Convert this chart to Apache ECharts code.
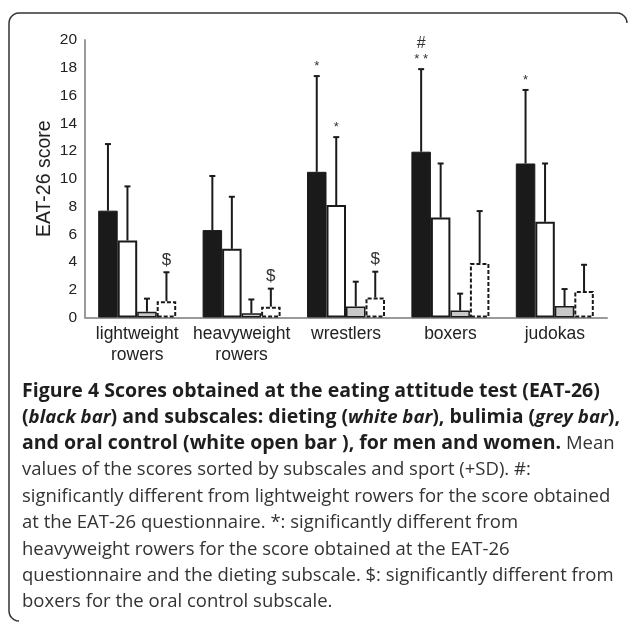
<!DOCTYPE html>
<html>
<head>
<meta charset="utf-8">
<script src="https://cdn.jsdelivr.net/npm/echarts@6/dist/echarts.min.js"></script>
<style>
  html, body { margin: 0; padding: 0; background: #fff; }
  #chart { width: 629px; height: 622px; }
</style>
</head>
<body>
<div id="chart"></div>
<script>
// sports on the x axis
var categories = ['lightweight\nrowers', 'heavyweight\nrowers', 'wrestlers', 'boxers', 'judokas'];
var yTicks = [0, 2, 4, 6, 8, 10, 12, 14, 16, 18, 20];

// means and SD
var eatMean = [7.7, 6.3, 10.5, 11.95, 11.1];
var eatSd = [4.8, 3.9, 6.9, 5.95, 5.3];
var dietMean = [5.55, 4.95, 8.1, 7.2, 6.9];
var dietSd = [3.9, 3.75, 4.9, 3.9, 4.2];
var bulMean = [0.42, 0.3, 0.8, 0.5, 0.83];
var bulSd = [0.94, 1.0, 1.78, 1.22, 1.22];
var oralMean = [1.17, 0.78, 1.45, 3.93, 1.91];
var oralSd = [2.09, 1.3, 1.85, 3.74, 1.89];

// significance marks above the SD bars
var eatMarks = ['', '', '*', '#\n* *', '*'];
var dietMarks = ['', '', '*', '', ''];
var bulMarks = ['', '', '', '', ''];
var oralMarks = ['$', '$', '$', '', ''];

var barW = 19.5;
var ink = '#1a1a1a';
var sans = '"Liberation Sans", Arial, sans-serif';

var chart = echarts.init(document.getElementById('chart'));

// error bar + mark, k = position of the bar in its group (0..3)
function errSeries(mean, sd, marks, k) {
    return {
        type: 'custom',
        z: 5,
        silent: true,
        data: mean.map(function (m, i) { return [i, m, m + sd[i]]; }),
        renderItem: function (params, api) {
            var base = api.coord([api.value(0), api.value(1)]);
            var top = api.coord([api.value(0), api.value(2)]);
            var x = base[0] + (k - 1.5) * barW;
            var mark = marks[params.dataIndex];
            var kids = [{
                type: 'line',
                shape: { x1: x, y1: base[1], x2: x, y2: top[1] },
                style: { stroke: ink, lineWidth: 2 }
            }, {
                type: 'line',
                shape: { x1: x - 3, y1: top[1], x2: x + 3, y2: top[1] },
                style: { stroke: ink, lineWidth: 2 }
            }];
            if (mark) {
                var isDollar = mark === '$';
                kids.push({
                    type: 'text',
                    style: {
                        text: mark.replace('#', '{h|#}'),
                        x: x,
                        y: isDollar ? top[1] - 12 : top[1] - 2,
                        align: 'center',
                        verticalAlign: isDollar ? 'middle' : 'bottom',
                        font: (isDollar ? 17 : 13) + 'px ' + sans,
                        lineHeight: 16,
                        fill: '#333',
                        rich: { h: { font: '16px ' + sans, fill: '#333', lineHeight: 16 } }
                    }
                });
            }
            return { type: 'group', children: kids };
        }
    };
}

// frame: rounded top corners, left side down to the bottom
function corner(cx, cy, r, a0, a1) {
    var pts = [];
    for (var s = 0; s <= 6; s++) {
        var a = a0 + (a1 - a0) * s / 6;
        pts.push([cx + r * Math.cos(a), cy + r * Math.sin(a)]);
    }
    return pts;
}
var framePts = [[19, 621]]
    .concat(corner(19, 611, 10, Math.PI / 2, Math.PI))
    .concat(corner(19, 23, 10, Math.PI, Math.PI * 1.5))
    .concat(corner(617, 23, 10, Math.PI * 1.5, Math.PI * 2));

var rich = {
    b: { font: 'bold 19.5px "Open Sans", sans-serif', fill: '#1e1e1e' },
    bi: { font: 'italic bold 18.6px "Open Sans", sans-serif', fill: '#1e1e1e' },
    r: { font: '18.5px "Open Sans", sans-serif', fill: '#333' }
};
var captionLines = [
    '{b|Figure 4 Scores obtained at the eating attitude test (EAT-26)}',
    '{b|(}{bi|black bar}{b|) and subscales: dieting (}{bi|white bar}{b|), bulimia (}{bi|grey bar}{b|),}',
    '{b|and oral control (white open bar ), for men and women.}{r| Mean}',
    '{r|values of the scores sorted by subscales and sport (+SD). #:}',
    '{r|significantly different from lightweight rowers for the score obtained}',
    '{r|at the EAT-26 questionnaire. *: significantly different from}',
    '{r|heavyweight rowers for the score obtained at the EAT-26}',
    '{r|questionnaire and the dieting subscale. $: significantly different from}',
    '{r|boxers for the oral control subscale.}'
];

var graphics = [{
    type: 'polyline',
    silent: true,
    shape: { points: framePts },
    style: { stroke: '#333', lineWidth: 1.5, fill: null }
}];
captionLines.forEach(function (t, i) {
    graphics.push({
        type: 'text',
        silent: true,
        style: { text: t, x: 22, y: 391 + i * 26.4, verticalAlign: 'middle', rich: rich }
    });
});

chart.setOption({
    animation: false,
    backgroundColor: '#fff',
    grid: { left: 85, right: 22, top: 40, bottom: 304.5 },
    xAxis: {
        type: 'category',
        data: categories,
        axisLine: { lineStyle: { color: '#9a9a9a', width: 2 } },
        axisTick: { show: false },
        axisLabel: {
            interval: 0,
            color: '#222',
            fontSize: 17.5,
            lineHeight: 21,
            margin: 6,
            fontFamily: sans
        }
    },
    yAxis: {
        type: 'value',
        min: 0,
        max: yTicks[yTicks.length - 1],
        interval: 2,
        name: 'EAT-26 score',
        nameLocation: 'middle',
        nameRotate: 90,
        nameGap: 30,
        nameMoveOverlap: false,
        nameTextStyle: { color: '#222', fontSize: 19.5, fontFamily: sans },
        axisLine: { show: true, lineStyle: { color: '#9a9a9a', width: 2 } },
        axisTick: { show: false },
        splitLine: { show: false },
        axisLabel: {
            color: '#222',
            fontSize: 15.5,
            margin: 8,
            fontFamily: sans
        }
    },
    series: [{
        name: 'EAT-26',
        type: 'bar',
        barWidth: barW,
        barGap: '0%',
        data: eatMean,
        itemStyle: { color: ink, borderColor: ink, borderWidth: 1 }
    }, {
        name: 'dieting',
        type: 'bar',
        barWidth: barW,
        barGap: '0%',
        data: dietMean,
        itemStyle: { color: '#fff', borderColor: ink, borderWidth: 2 }
    }, {
        name: 'bulimia',
        type: 'bar',
        barWidth: barW,
        barGap: '0%',
        data: bulMean,
        itemStyle: { color: '#c8c8c8', borderColor: ink, borderWidth: 1.5 }
    }, {
        name: 'oral control',
        type: 'bar',
        barWidth: barW,
        barGap: '0%',
        data: oralMean,
        itemStyle: { color: '#fff', borderColor: ink, borderWidth: 2, borderType: [4, 2] }
    },
        errSeries(eatMean, eatSd, eatMarks, 0),
        errSeries(dietMean, dietSd, dietMarks, 1),
        errSeries(bulMean, bulSd, bulMarks, 2),
        errSeries(oralMean, oralSd, oralMarks, 3)
    ],
    graphic: graphics
});
</script>
</body>
</html>
